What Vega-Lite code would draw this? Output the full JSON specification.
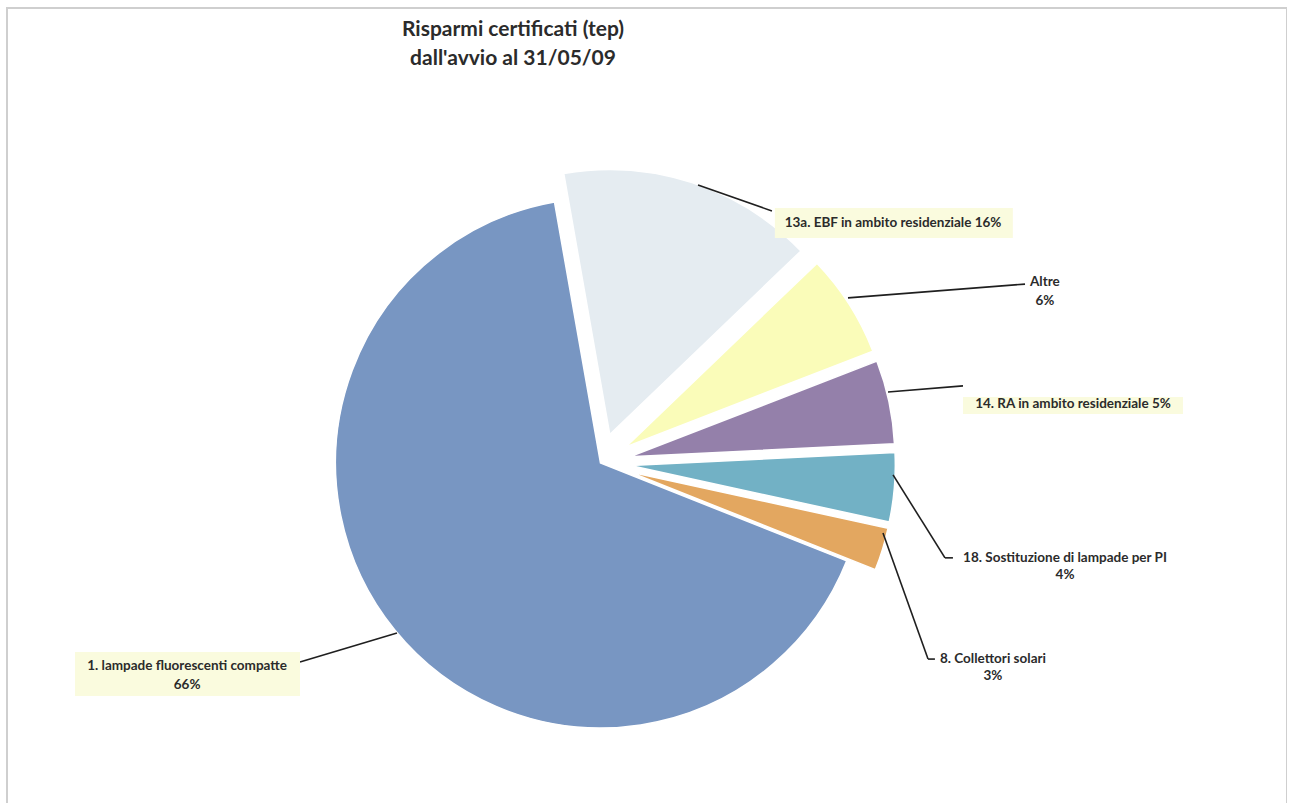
{
  "$schema": "https://vega.github.io/schema/vega-lite/v6.json",
  "width": 1280,
  "height": 800,
  "autosize": "none",
  "padding": {"left": 7, "top": 8, "right": 0, "bottom": 0},
  "background": "white",
  "view": {"stroke": "#cfcfcf", "strokeWidth": 2},
  "datasets": {
    "slices": [
      {"cat": "13a. EBF in ambito residenziale", "v": 15.6, "ord": 1},
      {"cat": "Altre", "v": 6.3, "ord": 2},
      {"cat": "14. RA in ambito residenziale", "v": 5.1, "ord": 3},
      {"cat": "18. Sostituzione di lampade per PI", "v": 4.2, "ord": 4},
      {"cat": "8. Collettori solari", "v": 2.6, "ord": 5},
      {"cat": "1. lampade fluorescenti compatte", "v": 66.2, "ord": 6}
    ],
    "title": [
      {"t": "Risparmi certificati (tep)", "x": -0.33, "y": 1.634},
      {"t": "dall'avvio al 31/05/09", "x": -0.33, "y": 1.525}
    ],
    "labels": [
      {"t": "13a. EBF in ambito residenziale 16%", "x": 1.104, "y": 0.906},
      {"t": "Altre", "x": 1.677, "y": 0.683},
      {"t": "6%", "x": 1.677, "y": 0.611},
      {"t": "14. RA in ambito residenziale 5%", "x": 1.783, "y": 0.221},
      {"t": "18. Sostituzione di lampade per PI", "x": 1.753, "y": -0.358},
      {"t": "4%", "x": 1.753, "y": -0.423},
      {"t": "8. Collettori solari", "x": 1.481, "y": -0.74},
      {"t": "3%", "x": 1.481, "y": -0.804},
      {"t": "1. lampade fluorescenti compatte", "x": -1.56, "y": -0.766},
      {"t": "66%", "x": -1.56, "y": -0.838}
    ],
    "boxes": [
      {"x": 0.658, "x2": 1.556, "y": 0.962, "y2": 0.849},
      {"x": 1.368, "x2": 2.198, "y": 0.249, "y2": 0.185},
      {"x": -1.983, "x2": -1.134, "y": -0.713, "y2": -0.879}
    ],
    "leaders": [
      {"x": 0.368, "y": 1.049, "x2": 0.647, "y2": 0.951},
      {"x": 0.934, "y": 0.623, "x2": 1.602, "y2": 0.675},
      {"x": 1.085, "y": 0.268, "x2": 1.368, "y2": 0.291},
      {"x": 1.104, "y": -0.045, "x2": 1.3, "y2": -0.358},
      {"x": 1.3, "y": -0.358, "x2": 1.33, "y2": -0.358},
      {"x": 1.066, "y": -0.264, "x2": 1.236, "y2": -0.74},
      {"x": 1.236, "y": -0.74, "x2": 1.262, "y2": -0.74},
      {"x": -1.134, "y": -0.751, "x2": -0.768, "y2": -0.642}
    ]
  },
  "layer": [
    {
      "data": {"name": "slices"},
      "transform": [
        {"stack": "v", "groupby": [], "sort": [{"field": "ord", "order": "ascending"}], "as": ["v0", "v1"]},
        {"calculate": "((datum.v0 + datum.v1) / 2) * 3.6 * PI / 180 - 10 * PI / 180", "as": "mid"},
        {"calculate": "datum.ord == 6 ? 0 : 0.113", "as": "ex"},
        {"calculate": "datum.ex * sin(datum.mid)", "as": "cx"},
        {"calculate": "datum.ex * cos(datum.mid)", "as": "cy"}
      ],
      "mark": {"type": "arc", "outerRadius": 265, "stroke": "white", "strokeWidth": 1.5},
      "encoding": {
        "x": {"field": "cx", "type": "quantitative", "scale": {"domain": [-2.2396, 2.5906], "nice": false, "zero": false}, "axis": null},
        "y": {"field": "cy", "type": "quantitative", "scale": {"domain": [-1.302, 1.717], "nice": false, "zero": false}, "axis": null},
        "theta": {"field": "v0", "type": "quantitative", "stack": null, "scale": {"domain": [0, 100], "range": [-0.1745, 6.1087]}},
        "theta2": {"field": "v1"},
        "color": {
          "field": "cat",
          "type": "nominal",
          "scale": {
            "domain": ["13a. EBF in ambito residenziale", "Altre", "14. RA in ambito residenziale", "18. Sostituzione di lampade per PI", "8. Collettori solari", "1. lampade fluorescenti compatte"],
            "range": ["#E5ECF1", "#FAFCB9", "#9480AA", "#72B1C5", "#E3A760", "#7896C2"]
          },
          "legend": null
        }
      }
    },
    {
      "data": {"name": "leaders"},
      "mark": {"type": "rule", "color": "#1f1f1f", "strokeWidth": 1.6},
      "encoding": {
        "x": {"field": "x", "type": "quantitative", "scale": {"domain": [-2.2396, 2.5906], "nice": false, "zero": false}, "axis": null},
        "y": {"field": "y", "type": "quantitative", "scale": {"domain": [-1.302, 1.717], "nice": false, "zero": false}, "axis": null},
        "x2": {"field": "x2"},
        "y2": {"field": "y2"}
      }
    },
    {
      "data": {"name": "boxes"},
      "mark": {"type": "rect", "fill": "#FAFBDE"},
      "encoding": {
        "x": {"field": "x", "type": "quantitative", "scale": {"domain": [-2.2396, 2.5906], "nice": false, "zero": false}, "axis": null},
        "y": {"field": "y", "type": "quantitative", "scale": {"domain": [-1.302, 1.717], "nice": false, "zero": false}, "axis": null},
        "x2": {"field": "x2"},
        "y2": {"field": "y2"}
      }
    },
    {
      "data": {"name": "labels"},
      "mark": {"type": "text", "font": "Lato", "fontSize": 13.5, "fontWeight": "bold", "color": "#2b2b2b", "align": "center", "baseline": "middle"},
      "encoding": {
        "x": {"field": "x", "type": "quantitative", "scale": {"domain": [-2.2396, 2.5906], "nice": false, "zero": false}, "axis": null},
        "y": {"field": "y", "type": "quantitative", "scale": {"domain": [-1.302, 1.717], "nice": false, "zero": false}, "axis": null},
        "text": {"field": "t"}
      }
    },
    {
      "data": {"name": "title"},
      "mark": {"type": "text", "font": "Lato", "fontSize": 21, "fontWeight": "bold", "color": "#2b2b2b", "align": "center", "baseline": "middle"},
      "encoding": {
        "x": {"field": "x", "type": "quantitative", "scale": {"domain": [-2.2396, 2.5906], "nice": false, "zero": false}, "axis": null},
        "y": {"field": "y", "type": "quantitative", "scale": {"domain": [-1.302, 1.717], "nice": false, "zero": false}, "axis": null},
        "text": {"field": "t"}
      }
    }
  ]
}
